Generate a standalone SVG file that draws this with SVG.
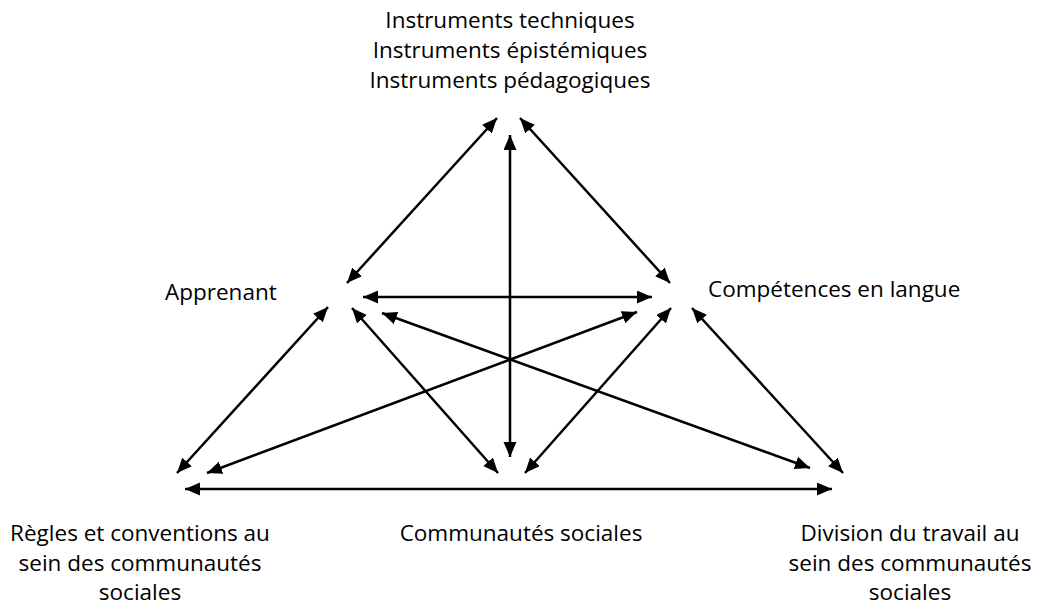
<svg xmlns="http://www.w3.org/2000/svg" width="1037" height="607" viewBox="0 0 1037 607">
<style>
text{font-family:"Open Sans","Liberation Sans",sans-serif;font-size:22.5px;fill:#000}
.c{text-anchor:middle}
.ln{stroke:#000;stroke-width:2.5;fill:none;marker-start:url(#ah);marker-end:url(#ah)}
</style>
<defs>
<marker id="ah" markerUnits="userSpaceOnUse" markerWidth="16" markerHeight="14" refX="15" refY="6.5" orient="auto-start-reverse" viewBox="0 0 16 14">
<path d="M0,0 L15,6.5 L0,13 z" fill="#000"/>
</marker>
</defs>
<rect width="1037" height="607" fill="#fff"/>
<g id="connectors">
<line class="ln" x1="347" y1="283" x2="497" y2="118"/>
<line class="ln" x1="670" y1="283" x2="520" y2="118"/>
<line class="ln" x1="510" y1="457" x2="510" y2="135"/>
<line class="ln" x1="363" y1="297" x2="652" y2="297"/>
<line class="ln" x1="328" y1="307" x2="177" y2="473"/>
<line class="ln" x1="352" y1="308" x2="498" y2="473"/>
<line class="ln" x1="382" y1="313" x2="810" y2="468"/>
<line class="ln" x1="637" y1="312" x2="207" y2="473"/>
<line class="ln" x1="671" y1="308" x2="525" y2="473"/>
<line class="ln" x1="692" y1="308" x2="843" y2="473"/>
<line class="ln" x1="185" y1="489" x2="832" y2="489"/>
</g>
<g id="instruments">
<text class="c" x="510" y="28">Instruments techniques</text>
<text class="c" x="510" y="58">Instruments épistémiques</text>
<text class="c" x="510" y="88">Instruments pédagogiques</text>
</g>
<g id="apprenant"><text x="165" y="300">Apprenant</text></g>
<g id="competences"><text x="708" y="297">Compétences en langue</text></g>
<g id="regles">
<text class="c" x="140" y="541">Règles et conventions au</text>
<text class="c" x="140" y="571">sein des communautés</text>
<text class="c" x="140" y="600">sociales</text>
</g>
<g id="communautes"><text class="c" x="521" y="541">Communautés sociales</text></g>
<g id="division">
<text class="c" x="910" y="541">Division du travail au</text>
<text class="c" x="910" y="571">sein des communautés</text>
<text class="c" x="910" y="600">sociales</text>
</g>
</svg>
